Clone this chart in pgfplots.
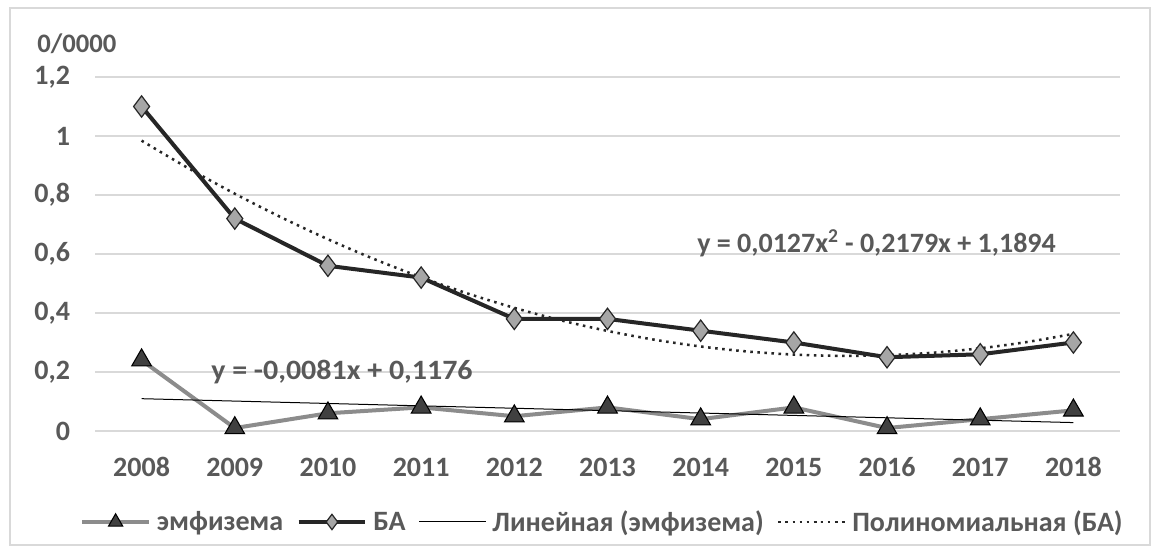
\documentclass[border=0pt]{standalone}
\usepackage{pgfplots}
\pgfplotsset{compat=1.18}
\usepackage{fontspec}
\setmainfont{Carlito}
\definecolor{txt}{HTML}{595959}
\definecolor{gridc}{HTML}{D9D9D9}
\definecolor{emph}{HTML}{8C8C8C}
\definecolor{emphm}{HTML}{404040}
\definecolor{ba}{HTML}{262626}
\definecolor{bam}{HTML}{A6A6A6}
\newcommand{\lbl}{\fontsize{21}{25}\selectfont\bfseries}
\begin{document}
\begin{tikzpicture}[x=1pt,y=1pt]
\useasboundingbox (0,0) rectangle (870.75,417);
\fill[white] (0,0) rectangle (870.75,417);
\draw[gridc, line width=1.5pt] (7.5,8.25) rectangle (862.5,411);
\begin{axis}[
  at={(71.25pt,93.75pt)}, anchor=south west,
  scale only axis, width=768.75pt, height=265.5pt,
  xmin=-0.5, xmax=10.5, ymin=0, ymax=1.2,
  xtick={0,...,10},
  xticklabels={2008,2009,2010,2011,2012,2013,2014,2015,2016,2017,2018},
  ytick={0,0.2,0.4,0.6,0.8,1,1.2},
  yticklabels={0,{0,2},{0,4},{0,6},{0,8},1,{1,2}},
  ymajorgrids, major grid style={gridc, line width=1pt},
  axis line style={draw=none}, tick style={draw=none},
  ticklabel style={font=\lbl, text=txt},
  yticklabel style={anchor=east, inner sep=0pt, xshift=-18.5pt},
  xticklabel style={anchor=center, inner sep=0pt, yshift=-27pt},
  clip=false,
  legend style={at={(0.4941,-0.257)}, anchor=center, draw=none, fill=none,
     font=\lbl, text=txt, legend columns=4,
     nodes={inner sep=0pt},
     /tikz/every odd column/.style={column sep=4.5pt},
     /tikz/every even column/.style={column sep=10pt},
     cells={anchor=west}},
  legend image code/.code={\draw[mark repeat=2,mark phase=2,/tikz/every mark/.append style={scale=0.72}] plot coordinates {(0pt,0pt)(25pt,0pt)(50pt,0pt)};},
]
\addplot[emph, line width=3pt, mark=triangle*, mark size=8.5pt,
  mark options={fill=emphm, draw=black, line width=0.8pt}]
  coordinates {(0,0.24)(1,0.01)(2,0.06)(3,0.08)(4,0.05)(5,0.08)(6,0.04)(7,0.08)(8,0.01)(9,0.04)(10,0.07)};
\addlegendentry{эмфизема}
\addplot[ba, line width=3pt, mark=diamond*, mark size=8pt,
  mark options={fill=bam, draw=ba, line width=0.9pt}]
  coordinates {(0,1.10)(1,0.72)(2,0.56)(3,0.52)(4,0.38)(5,0.38)(6,0.34)(7,0.30)(8,0.25)(9,0.26)(10,0.30)};
\addlegendentry{БА}
\addplot[black, line width=0.75pt, no marks]
  coordinates {(0,0.1095)(1,0.1014)(2,0.0933)(3,0.0852)(4,0.0771)(5,0.0690)(6,0.0609)(7,0.0528)(8,0.0447)(9,0.0366)(10,0.0285)};
\addlegendentry{Линейная (эмфизема)}
\addplot[ba, line width=1.9pt, no marks, dash pattern=on 1.9pt off 3.4pt, smooth]
  coordinates {(0,0.9842)(0.5,0.8911)(1,0.8044)(1.5,0.7240)(2,0.6500)(2.5,0.5823)(3,0.5210)(3.5,0.4660)(4,0.4174)(4.5,0.3751)(5,0.3392)(5.5,0.3096)(6,0.2864)(6.5,0.2695)(7,0.2590)(7.5,0.2548)(8,0.2570)(8.5,0.2655)(9,0.2804)(9.5,0.3016)(10,0.3292)};
\addlegendentry{Полиномиальная (БА)}
\end{axis}
\node[anchor=west, inner sep=0pt, font=\fontsize{20}{24}\selectfont\bfseries, text=txt] at (27.75,384.4) {0/0000};
\node[anchor=west, inner sep=0pt, font=\lbl, text=txt] at (522.75,234.75) {y = 0,0127x\textsuperscript{2} - 0,2179x + 1,1894};
\node[anchor=west, inner sep=0pt, font=\lbl, text=txt, xscale=1.07] at (158.25,138) {y = -0,0081x + 0,1176};
\end{tikzpicture}
\end{document}
